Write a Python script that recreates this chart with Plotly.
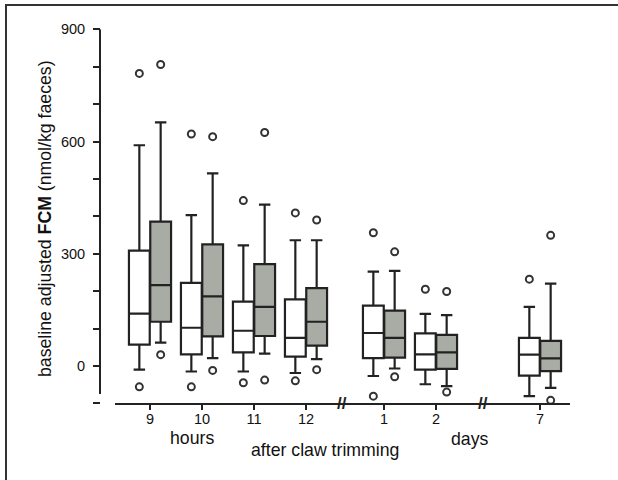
import plotly.graph_objects as go

# ---- data ----
groups = ["9", "10", "11", "12", "1", "2", "7"]
positions = [0, 1, 2, 3, 4.5, 5.5, 7.5]

# white boxes
w_upper = [590, 403, 322, 336, 252, 139, 158]
w_q3 = [308, 222, 172, 178, 161, 87, 75]
w_med = [140, 102, 94, 75, 88, 31, 30]
w_q1 = [57, 31, 36, 25, 21, -10, -26]
w_lower = [-10, -15, -15, -19, -27, -49, -81]
w_out_hi = [782, 620, 442, 409, 356, 205, 232]
w_out_lo = [-56, -56, -45, -40, -81, None, None]

# grey boxes
g_upper = [651, 515, 431, 336, 254, 136, 220]
g_q3 = [386, 325, 272, 208, 148, 83, 67]
g_med = [216, 186, 158, 118, 75, 36, 20]
g_q1 = [118, 79, 80, 54, 22, -8, -14]
g_lower = [62, 21, 33, 18, -7, -54, -59]
g_out_hi = [806, 613, 624, 390, 305, 199, 349]
g_out_lo = [30, -12, -38, -10, -29, -70, -92]

y_ticks = [0, 300, 600, 900]
breaks = [3.69, 6.4]

# ---- layout constants (figure pixels) ----
W, H = 618, 480
def fx(px):
    return px / W
def fy(py):
    return 1 - py / H

PLOT_L, PLOT_R = 115, 570
PLOT_T, PLOT_B = 29.3, 403.3
YAXIS_X = 100

OFF = 0.205
BOXW = 0.4
LINE = "#222222"
GREY = "#a9aca5"
FONT = "Liberation Sans, Arial, sans-serif"
TXT = "#111111"

fig = go.Figure()

def add_series(xoff, q1, med, q3, lo, hi, fill, out_hi, out_lo):
    xs = [p + xoff for p in positions]
    fig.add_trace(go.Box(
        x=xs, q1=q1, median=med, q3=q3, lowerfence=lo, upperfence=hi,
        width=BOXW, whiskerwidth=0.55, fillcolor=fill,
        line=dict(color=LINE, width=2.2), boxpoints=False,
        showlegend=False, hoverinfo="skip"))
    ox, oy = [], []
    for x, a, b in zip(xs, out_hi, out_lo):
        for v in (a, b):
            if v is not None:
                ox.append(x)
                oy.append(v)
    fig.add_trace(go.Scatter(
        x=ox, y=oy, mode="markers", showlegend=False, hoverinfo="skip",
        marker=dict(symbol="circle-open", size=7, color="#333333",
                    line=dict(width=2, color="#333333"))))

add_series(-OFF, w_q1, w_med, w_q3, w_lower, w_upper, "#ffffff", w_out_hi, w_out_lo)
add_series(OFF, g_q1, g_med, g_q3, g_lower, g_upper, GREY, g_out_hi, g_out_lo)

x0 = (PLOT_L - 150) / 52
x1 = (PLOT_R - 150) / 52

fig.update_layout(
    width=W, height=H,
    margin=dict(l=0, r=0, t=0, b=0, pad=0),
    paper_bgcolor="white", plot_bgcolor="white",
    font=dict(family=FONT, color=TXT, size=14),
    xaxis=dict(
        domain=[fx(PLOT_L), fx(PLOT_R)], range=[x0, x1], automargin=False,
        tickmode="array", tickvals=positions, ticktext=groups,
        ticks="outside", ticklen=5, tickwidth=2, tickcolor=LINE,
        showline=True, linewidth=2, linecolor=LINE,
        showgrid=False, zeroline=False,
        tickfont=dict(size=14.5, family=FONT, color=TXT),
        ticklabelstandoff=-4,
    ),
    yaxis=dict(
        domain=[fy(PLOT_B), fy(PLOT_T)],
        anchor="free", position=fx(YAXIS_X), range=[-100, 900], automargin=False,
        tickmode="array", tickvals=y_ticks,
        ticks="outside", ticklen=7, tickwidth=2, tickcolor=LINE,
        minor=dict(dtick=100, ticks="outside", ticklen=7, tickwidth=2, tickcolor=LINE),
        showline=False, showgrid=False, zeroline=False,
        tickfont=dict(size=14.5, family=FONT, color=TXT),
        ticklabelstandoff=5,
    ),
    showlegend=False,
)

# y axis line (shorter than the plot height, like the reference)
fig.add_shape(type="line", xref="paper", yref="y",
              x0=fx(YAXIS_X), x1=fx(YAXIS_X), y0=-75, y1=900,
              line=dict(color=LINE, width=2))

# frame around the figure
fig.add_shape(type="rect", xref="paper", yref="paper",
              x0=fx(6), x1=fx(640), y0=fy(500), y1=fy(5),
              line=dict(color="#333333", width=2), fillcolor="rgba(0,0,0,0)")

# axis break marks
for b in breaks:
    fig.add_annotation(x=b, y=-100, xref="x", yref="y", text="<b>//</b>",
                       xanchor="center", yanchor="middle",
                       showarrow=False, font=dict(size=17, family=FONT, color=LINE))

# titles
def label(px, py, text, angle=0):
    fig.add_annotation(x=fx(px), y=fy(py), xref="paper", yref="paper",
                       xanchor="center", yanchor="middle",
                       text=text, textangle=angle, showarrow=False,
                       font=dict(size=17.7, family=FONT, color=TXT))

label(45, 219, "baseline adjusted <b>FCM</b> (nmol/kg faeces)", -90)
label(192, 438, "hours")
label(325, 450, "after claw trimming")
label(470, 439, "days")

fig.write_html("out.html", config={"displayModeBar": False},
               post_script="document.body.style.margin='0px';")
